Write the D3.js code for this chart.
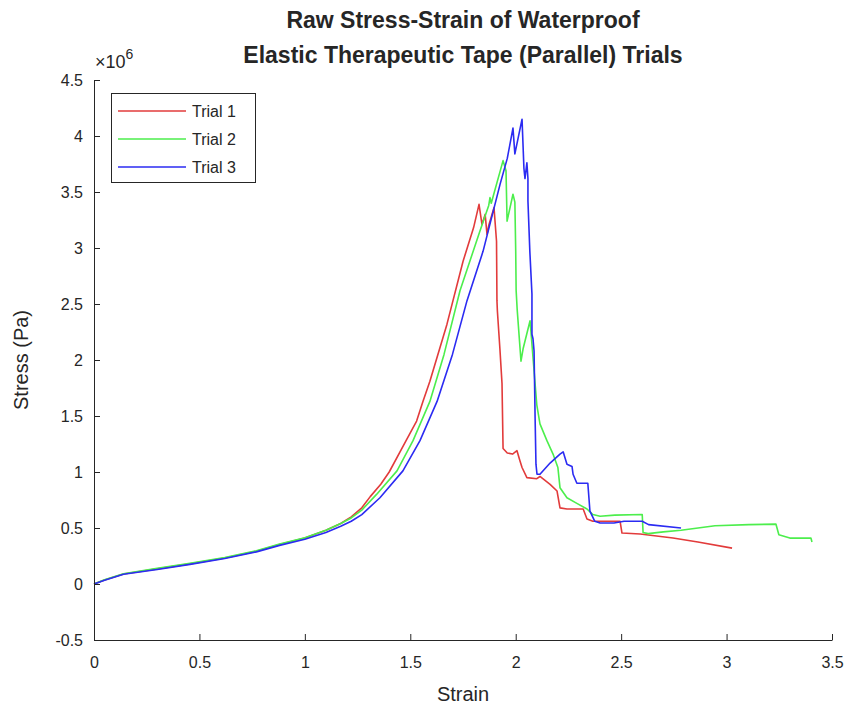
<!DOCTYPE html>
<html>
<head>
<meta charset="utf-8">
<script src="https://cdn.jsdelivr.net/npm/d3@7"></script>
<style>
  html, body { margin: 0; padding: 0; background: #fff; }
  svg { display: block; }
  text { font-family: "Liberation Sans", Arial, Helvetica, sans-serif; fill: #262626; }
</style>
</head>
<body>
<svg id="chart" width="851" height="713"></svg>
<script>
// ---- Data (strain, stress in units of 1e6 Pa) ----
const trialNames = ["Trial 1", "Trial 2", "Trial 3"];
const trialColors = ["#e23b3b", "#4cee4c", "#2b2bf2"];

const trial1 = [
  [0,0],[0.05,0.035],[0.14,0.09],[0.3,0.135],[0.455,0.18],[0.62,0.232],[0.77,0.292],[0.88,0.352],
  [1.0,0.41],[1.1,0.48],[1.17,0.54],[1.22,0.6],[1.27,0.68],[1.31,0.78],[1.36,0.89],[1.40,1.0],[1.48,1.28],
  [1.53,1.455],[1.56,1.63],[1.593,1.81],[1.674,2.32],[1.75,2.88],[1.80,3.18],[1.826,3.39],
  [1.84,3.21],[1.855,3.30],[1.864,3.12],[1.872,3.2],[1.897,3.36],[1.909,3.06],[1.911,2.53],
  [1.913,2.44],[1.925,2.1],[1.935,1.79],[1.94,1.21],[1.96,1.17],[1.985,1.16],[2.006,1.19],
  [2.02,1.10],[2.03,1.04],[2.053,0.95],[2.10,0.94],[2.115,0.96],[2.163,0.89],[2.196,0.83],
  [2.21,0.68],[2.243,0.67],[2.32,0.67],[2.338,0.58],[2.366,0.56],[2.495,0.56],[2.504,0.455],
  [2.59,0.446],[2.746,0.41],[2.864,0.375],[3.026,0.32]
];

const trial2 = [
  [0,0],[0.05,0.037],[0.14,0.092],[0.3,0.14],[0.455,0.185],[0.62,0.236],[0.77,0.296],[0.88,0.356],
  [1.0,0.412],[1.1,0.48],[1.17,0.54],[1.22,0.59],[1.27,0.66],[1.34,0.80],[1.437,1.01],[1.513,1.28],
  [1.593,1.63],[1.66,2.05],[1.736,2.62],[1.83,3.15],[1.872,3.38],[1.878,3.45],[1.884,3.40],
  [1.94,3.78],[1.954,3.69],[1.959,3.24],[1.987,3.48],[1.996,3.41],[2.0,2.97],[2.002,2.62],
  [2.007,2.45],[2.025,1.99],[2.035,2.1],[2.068,2.35],[2.10,1.6],[2.115,1.43],[2.148,1.28],
  [2.177,1.16],[2.2,1.04],[2.21,0.86],[2.243,0.77],[2.29,0.72],[2.338,0.67],[2.366,0.62],
  [2.40,0.605],[2.47,0.615],[2.6,0.62],[2.604,0.46],[2.628,0.45],[2.70,0.465],[2.784,0.48],
  [2.945,0.52],[3.106,0.53],[3.234,0.535],[3.248,0.44],[3.30,0.41],[3.40,0.41],[3.405,0.375]
];

const trial3 = [
  [0,0],[0.05,0.033],[0.14,0.087],[0.3,0.13],[0.455,0.175],[0.62,0.228],[0.77,0.287],[0.88,0.345],
  [1.0,0.4],[1.1,0.46],[1.17,0.515],[1.22,0.56],[1.27,0.62],[1.356,0.77],[1.465,1.01],[1.546,1.28],
  [1.627,1.63],[1.7,2.05],[1.769,2.53],[1.845,2.97],[1.926,3.57],[1.96,3.80],[1.987,4.07],
  [1.996,3.84],[2.030,4.15],[2.039,3.71],[2.044,3.62],[2.053,3.76],[2.058,3.62],[2.058,3.42],
  [2.067,2.97],[2.077,2.59],[2.077,2.23],[2.082,2.19],[2.087,2.08],[2.092,1.48],[2.096,1.07],
  [2.101,0.98],[2.115,0.98],[2.163,1.08],[2.21,1.16],[2.225,1.18],[2.243,1.07],[2.267,1.05],
  [2.272,0.98],[2.29,0.9],[2.342,0.9],[2.352,0.65],[2.375,0.56],[2.40,0.545],[2.466,0.545],
  [2.514,0.56],[2.6,0.56],[2.63,0.53],[2.784,0.50]
];

const xTicks = [0, 0.5, 1, 1.5, 2, 2.5, 3, 3.5];
const xTickLabels = ["0", "0.5", "1", "1.5", "2", "2.5", "3", "3.5"];
const yTicks = [-0.5, 0, 0.5, 1, 1.5, 2, 2.5, 3, 3.5, 4, 4.5];
const yTickLabels = ["-0.5", "0", "0.5", "1", "1.5", "2", "2.5", "3", "3.5", "4", "4.5"];
const titleLines = ["Raw Stress-Strain of Waterproof", "Elastic Therapeutic Tape (Parallel) Trials"];
const xLabel = "Strain";
const yLabel = "Stress (Pa)";

// ---- Layout ----
const margin = { left: 94, right: 851 - 832, top: 80, bottom: 713 - 640 };
const W = 851, H = 713;
const x = d3.scaleLinear().domain([0, 3.5]).range([margin.left, W - margin.right]);
const y = d3.scaleLinear().domain([-0.5, 4.5]).range([H - margin.bottom, margin.top]);

const svg = d3.select("#chart");
const axisColor = "#262626";

// lines
const line = d3.line().x(d => x(d[0])).y(d => y(d[1]));
const series = [trial1, trial2, trial3];
const plot = svg.append("g");
series.forEach((s, i) => {
  plot.append("path").datum(s)
    .attr("d", line)
    .attr("fill", "none")
    .attr("stroke", trialColors[i])
    .attr("stroke-width", 1.6)
    .attr("stroke-linejoin", "round");
});

// axes
const xAxis = d3.axisBottom(x).tickValues(xTicks).tickFormat((d, i) => xTickLabels[i])
  .tickSizeInner(-6).tickSizeOuter(0).tickPadding(17);
const gx = svg.append("g").attr("transform", `translate(0,${y(-0.5)})`).call(xAxis);
const yAxis = d3.axisLeft(y).tickValues(yTicks).tickFormat((d, i) => yTickLabels[i])
  .tickSizeInner(-6).tickSizeOuter(0).tickPadding(11);
const gy = svg.append("g").attr("transform", `translate(${x(0)},0)`).call(yAxis);
[gx, gy].forEach(g => {
  g.select(".domain").attr("stroke", axisColor).attr("stroke-width", 1);
  g.selectAll(".tick line").attr("stroke", axisColor).attr("stroke-width", 1);
  g.selectAll(".tick text").attr("fill", axisColor)
    .style("font-family", '"Liberation Sans", Arial, sans-serif').style("font-size", "16px");
});

// exponent label
const expText = svg.append("text").attr("x", x(0) + 1).attr("y", 68).style("font-size", "18px").attr("fill", "#444");
expText.append("tspan").text("\u00d7");
expText.append("tspan").text("10");
expText.append("tspan").attr("dy", -9).style("font-size", "14px").text("6");

// title
titleLines.forEach((t, i) => {
  svg.append("text").attr("x", (x(0) + x(3.5)) / 2).attr("y", 28 + i * 35)
    .attr("text-anchor", "middle").style("font-size", "23px").style("font-weight", "bold")
    .attr("fill", "#111").text(t);
});

// axis labels
svg.append("text").attr("x", (x(0) + x(3.5)) / 2).attr("y", 701)
  .attr("text-anchor", "middle").style("font-size", "20px").text(xLabel);
svg.append("text").attr("transform", `translate(28,${(y(-0.5) + y(4.5)) / 2}) rotate(-90)`)
  .attr("text-anchor", "middle").style("font-size", "20px").text(yLabel);

// legend
const lg = svg.append("g");
lg.append("rect").attr("x", 111.5).attr("y", 93.5).attr("width", 144).attr("height", 89)
  .attr("fill", "#fff").attr("stroke", axisColor).attr("stroke-width", 1);
trialNames.forEach((n, i) => {
  const cy = 111 + i * 28;
  lg.append("line").attr("x1", 118).attr("x2", 186).attr("y1", cy).attr("y2", cy)
    .attr("stroke", trialColors[i]).attr("stroke-width", 1.6);
  lg.append("text").attr("x", 192).attr("y", cy).attr("dy", "0.35em")
    .style("font-size", "16px").text(n);
});
</script>
</body>
</html>
